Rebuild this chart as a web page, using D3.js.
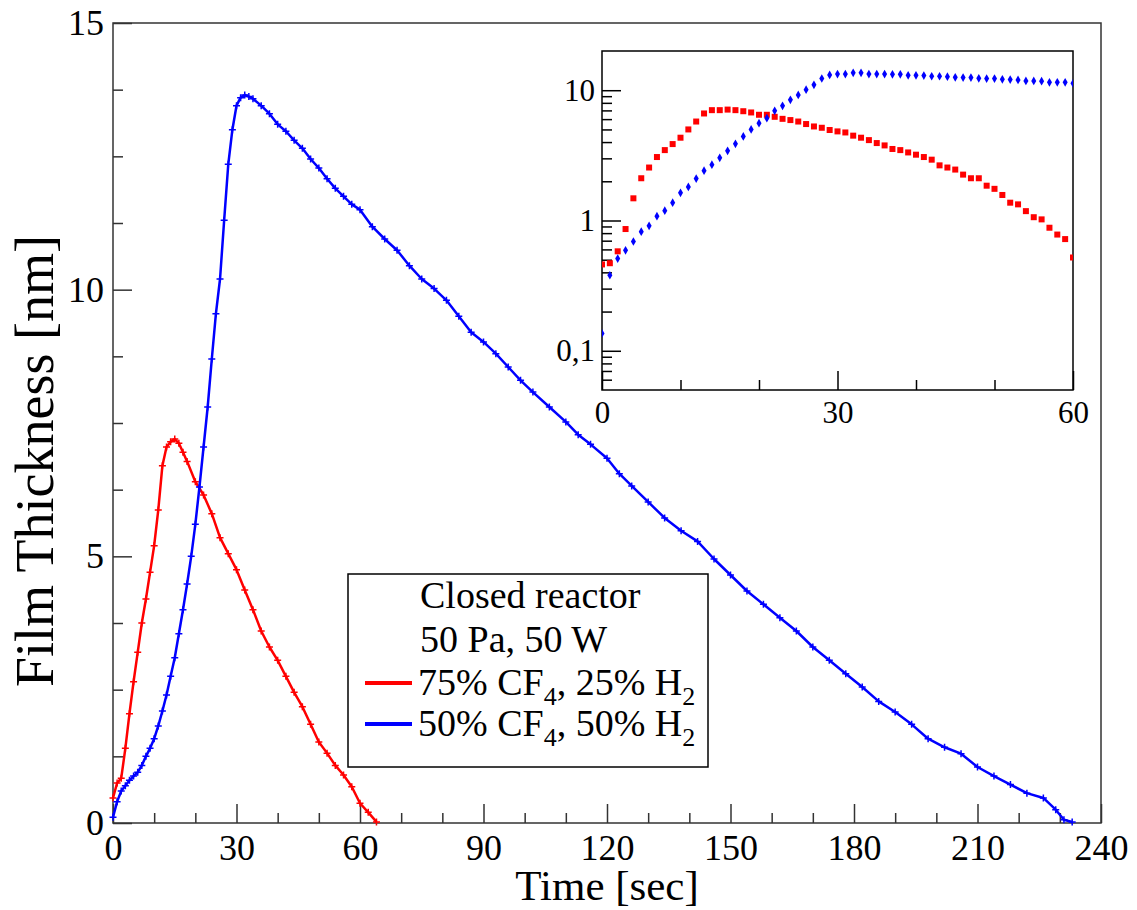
<!DOCTYPE html>
<html>
<head>
<meta charset="utf-8">
<script src="https://cdn.jsdelivr.net/npm/d3@7"></script>
<style>
	body { margin: 0; background: #fff; }
	text { font-family: "Liberation Serif", "Times New Roman", serif; fill: #000; }
</style>
</head>
<body>
<svg id="chart" width="1137" height="910"></svg>
<script>
// Main plot: 75% CF4, 25% H2 (red)
const redTime = [0, 1, 2, 3, 4, 5, 6, 7, 8, 9, 10, 11, 12, 13, 14, 15, 16, 17, 18, 20, 22, 24, 26, 28, 30,
	32, 34, 36, 38, 40, 42, 44, 46, 48, 50, 52, 54, 56, 58, 60, 62, 64];
const redThickness = [0.47, 0.75, 0.84, 1.4, 2.05, 2.65, 3.2, 3.75, 4.2, 4.7, 5.2, 5.87, 6.7, 7.05, 7.15, 7.2, 7.12, 6.95, 6.78,
	6.4, 6.15, 5.8, 5.35, 5.05, 4.75, 4.37, 4.0, 3.6, 3.3, 3.05, 2.75, 2.45, 2.18, 1.85, 1.52, 1.31, 1.08, 0.9, 0.68, 0.37, 0.2, 0.02];

// Main plot: 50% CF4, 50% H2 (blue)
const blueTime = [0, 1, 2, 3, 4, 5, 6, 7, 8, 9, 10, 11, 12, 13, 14, 15, 16, 17, 18, 19, 20, 21, 22, 23, 24, 25, 26, 27, 28, 29,
	30, 31, 32, 33, 34, 36, 38, 40, 42, 44, 46, 48, 50, 52, 54, 56, 58, 60, 63, 66, 69, 72, 75, 78, 81, 84, 87, 90, 93, 96, 99,
	102, 106, 110, 113, 116, 120, 123, 126, 130, 134, 138, 142, 146, 150, 154, 158, 162, 166, 170, 174, 178, 182, 186, 190,
	194, 198, 202, 206, 210, 214, 218, 222, 226, 229, 231, 233];
const blueThickness = [0.11, 0.4, 0.6, 0.7, 0.8, 0.88, 0.95, 1.08, 1.25, 1.4, 1.58, 1.82, 2.1, 2.4, 2.75, 3.1, 3.55, 4.0, 4.48,
	5.0, 5.6, 6.3, 7.05, 7.8, 8.7, 9.55, 10.2, 11.3, 12.35, 13.0, 13.45, 13.6, 13.65, 13.62, 13.58, 13.45, 13.3, 13.1, 12.97,
	12.8, 12.65, 12.45, 12.28, 12.08, 11.9, 11.75, 11.6, 11.5, 11.18, 10.95, 10.74, 10.45, 10.2, 10.02, 9.8, 9.5, 9.2, 9.02,
	8.8, 8.55, 8.3, 8.08, 7.8, 7.52, 7.28, 7.1, 6.84, 6.55, 6.32, 6.02, 5.72, 5.48, 5.28, 4.95, 4.65, 4.35, 4.1, 3.85, 3.6,
	3.3, 3.05, 2.8, 2.55, 2.28, 2.08, 1.85, 1.58, 1.42, 1.3, 1.05, 0.88, 0.72, 0.56, 0.47, 0.25, 0.06, 0.02];

// Inset (log scale), one point per second
const insetTime = [0, 1, 2, 3, 4, 5, 6, 7, 8, 9, 10, 11, 12, 13, 14, 15, 16, 17, 18, 19, 20, 21, 22, 23, 24, 25, 26, 27, 28, 29,
	30, 31, 32, 33, 34, 35, 36, 37, 38, 39, 40, 41, 42, 43, 44, 45, 46, 47, 48, 49, 50, 51, 52, 53, 54, 55, 56, 57, 58, 59, 60];
const insetRed = [0.46, 0.47, 0.58, 0.86, 1.48, 2.11, 2.55, 3.07, 3.47, 3.86, 4.32, 5.0, 5.75, 6.63, 7.03, 7.03, 7.1, 7.03,
	6.9, 6.75, 6.48, 6.48, 6.25, 6.03, 5.9, 5.75, 5.5, 5.27, 5.15, 4.95, 4.83, 4.74, 4.48, 4.32, 4.14, 3.93, 3.77, 3.54, 3.47,
	3.33, 3.2, 3.07, 2.93, 2.65, 2.55, 2.46, 2.25, 2.11, 2.11, 1.85, 1.75, 1.57, 1.37, 1.33, 1.18, 1.06, 1.02, 0.88, 0.78, 0.72, 0.52];
const insetBlue = [0.136, 0.38, 0.51, 0.59, 0.69, 0.82, 0.91, 1.08, 1.19, 1.37, 1.63, 1.81, 2.1, 2.41, 2.68, 3.03, 3.43, 3.88,
	4.42, 5.0, 5.59, 6.1, 6.95, 7.59, 8.44, 9.2, 10.1, 11.0, 12.3, 13.1, 13.3, 13.3, 13.6, 13.6, 13.3, 13.3, 13.3, 13.25, 13.25,
	13.0, 13.0, 12.95, 12.8, 12.8, 12.7, 12.57, 12.5, 12.5, 12.35, 12.28, 12.28, 12.13, 12.07, 12.0, 11.78, 11.78, 11.72, 11.5,
	11.5, 11.5, 11.3];

// Tick labels
const xMajorTicks = [0, 30, 60, 90, 120, 150, 180, 210, 240];
const xMinorTicks = [10, 20, 40, 50, 70, 80, 100, 110, 130, 140, 160, 170, 190, 200, 220, 230];
const yMajorTicks = [0, 5, 10, 15];
const yMinorTicks = [1.25, 2.5, 3.75, 6.25, 7.5, 8.75, 11.25, 12.5, 13.75];
const insetXMajor = [0, 30, 60];
const insetXMinor = [10, 20, 40, 50];
const insetYMajor = [0.1, 1, 10];
const insetYLabels = ["0,1", "1", "10"];
const insetYMinor = [0.06, 0.07, 0.08, 0.09, 0.2, 0.3, 0.4, 0.5, 0.6, 0.7, 0.8, 0.9, 2, 3, 4, 5, 6, 7, 8, 9];

const legendTitle = ["Closed reactor", "50 Pa, 50 W"];

const svg = d3.select("#chart");

// ---------- main plot ----------
const plot = { left: 113, right: 1101, top: 23, bottom: 823 };

const x = d3.scaleLinear().domain([0, 240]).range([plot.left, plot.right]);
const y = d3.scaleLinear().domain([0, 15]).range([plot.bottom, plot.top]);

svg.append("rect")
	.attr("x", plot.left).attr("y", plot.top)
	.attr("width", plot.right - plot.left).attr("height", plot.bottom - plot.top)
	.attr("fill", "#fff").attr("stroke", "#333").attr("stroke-width", 1.5);

function styleAxis(g, color, fontSize) {
	g.select(".domain").remove();
	g.selectAll(".tick line").attr("stroke", color).attr("stroke-width", 1.5);
	g.selectAll(".tick text").attr("font-size", fontSize).attr("fill", "#000")
		.attr("font-family", "Liberation Serif, serif");
}

svg.append("g").attr("transform", `translate(0,${plot.bottom})`)
	.call(d3.axisBottom(x).tickValues(xMinorTicks).tickSize(-10).tickFormat(""))
	.call(g => styleAxis(g, "#333", 36));
svg.append("g").attr("transform", `translate(0,${plot.bottom})`)
	.call(d3.axisBottom(x).tickValues(xMajorTicks).tickSize(-19).tickPadding(11))
	.call(g => styleAxis(g, "#333", 36));
svg.append("g").attr("transform", `translate(${plot.left},0)`)
	.call(d3.axisLeft(y).tickValues(yMinorTicks).tickSize(-10).tickFormat(""))
	.call(g => styleAxis(g, "#333", 36));
svg.append("g").attr("transform", `translate(${plot.left},0)`)
	.call(d3.axisLeft(y).tickValues(yMajorTicks).tickSize(-19).tickPadding(9))
	.call(g => styleAxis(g, "#333", 36));

// Axis titles
svg.append("text")
	.attr("x", (plot.left + plot.right) / 2).attr("y", 900)
	.attr("text-anchor", "middle").attr("font-size", 43)
	.text("Time [sec]");
svg.append("text")
	.attr("transform", "translate(53,461) rotate(-90)")
	.attr("text-anchor", "middle").attr("font-size", 54)
	.text("Film Thickness [nm]");

// Curves with "+" markers at each measured point
const crossPath = "M-3.5,0H3.5M0,-3.5V3.5";

function drawSeries(times, values, color) {
	const points = times.map((t, i) => [t, values[i]]);
	svg.append("path")
		.datum(points)
		.attr("fill", "none")
		.attr("stroke", color)
		.attr("stroke-width", 2.5)
		.attr("stroke-linejoin", "round")
		.attr("d", d3.line().x(d => x(d[0])).y(d => y(d[1])));
	svg.append("g")
		.selectAll("path")
		.data(points)
		.enter()
		.append("path")
		.attr("d", crossPath)
		.attr("transform", d => `translate(${x(d[0])},${y(d[1])})`)
		.attr("stroke", color)
		.attr("stroke-width", 1.5);
}

drawSeries(redTime, redThickness, "#ff0000");
drawSeries(blueTime, blueThickness, "#0000ff");

// ---------- legend ----------
const legend = svg.append("g");
legend.append("rect")
	.attr("x", 348).attr("y", 574).attr("width", 360).attr("height", 193)
	.attr("fill", "#fff").attr("stroke", "#000").attr("stroke-width", 1.5);

legendTitle.forEach((line, i) => {
	legend.append("text")
		.attr("x", 420).attr("y", 608 + i * 44)
		.attr("font-size", 38)
		.text(line);
});

const legendEntries = [
	{ color: "#ff0000", a: "75", b: "25", y: 695 },
	{ color: "#0000ff", a: "50", b: "50", y: 736 }
];
legendEntries.forEach(entry => {
	legend.append("line")
		.attr("x1", 365).attr("x2", 412)
		.attr("y1", entry.y - 12).attr("y2", entry.y - 12)
		.attr("stroke", entry.color).attr("stroke-width", 4);
	const t = legend.append("text").attr("x", 418).attr("y", entry.y).attr("font-size", 38);
	t.append("tspan").text(`${entry.a}% CF`);
	t.append("tspan").attr("font-size", 26).attr("dy", 10).text("4");
	t.append("tspan").attr("dy", -10).text(`, ${entry.b}% H`);
	t.append("tspan").attr("font-size", 26).attr("dy", 10).text("2");
});

// ---------- inset (log scale) ----------
const inset = { left: 602, right: 1073, top: 51, bottom: 390 };

const xi = d3.scaleLinear().domain([0, 60]).range([inset.left, inset.right]);
const yi = d3.scaleLog().domain([0.05, 20]).range([inset.bottom, inset.top]);

svg.append("rect")
	.attr("x", inset.left).attr("y", inset.top)
	.attr("width", inset.right - inset.left).attr("height", inset.bottom - inset.top)
	.attr("fill", "#fff").attr("stroke", "#000").attr("stroke-width", 1.5);

svg.append("defs").append("clipPath").attr("id", "insetClip")
	.append("rect")
	.attr("x", inset.left).attr("y", inset.top)
	.attr("width", inset.right - inset.left).attr("height", inset.bottom - inset.top);

svg.append("g").attr("transform", `translate(0,${inset.bottom})`)
	.call(d3.axisBottom(xi).tickValues(insetXMinor).tickSize(-10).tickFormat(""))
	.call(g => styleAxis(g, "#000", 31));
svg.append("g").attr("transform", `translate(0,${inset.bottom})`)
	.call(d3.axisBottom(xi).tickValues(insetXMajor).tickSize(-19).tickPadding(11))
	.call(g => styleAxis(g, "#000", 31));
svg.append("g").attr("transform", `translate(${inset.left},0)`)
	.call(d3.axisLeft(yi).tickValues(insetYMinor).tickSize(-10).tickFormat(""))
	.call(g => styleAxis(g, "#000", 31));
svg.append("g").attr("transform", `translate(${inset.left},0)`)
	.call(d3.axisLeft(yi).tickValues(insetYMajor).tickSize(-19).tickPadding(7)
		.tickFormat((d, i) => insetYLabels[i]))
	.call(g => styleAxis(g, "#000", 31));

const insetMarks = svg.append("g").attr("clip-path", "url(#insetClip)");

insetMarks.selectAll("rect.red")
	.data(insetTime.map((t, i) => [t, insetRed[i]]))
	.enter()
	.append("rect")
	.attr("class", "red")
	.attr("x", d => xi(d[0]) - 3).attr("y", d => yi(d[1]) - 3)
	.attr("width", 6).attr("height", 6)
	.attr("fill", "#ff0000");

insetMarks.selectAll("path.blue")
	.data(insetTime.map((t, i) => [t, insetBlue[i]]))
	.enter()
	.append("path")
	.attr("class", "blue")
	.attr("d", d3.symbol(d3.symbolDiamond, 22))
	.attr("transform", d => `translate(${xi(d[0])},${yi(d[1])})`)
	.attr("fill", "#0000ff");
</script>
</body>
</html>
